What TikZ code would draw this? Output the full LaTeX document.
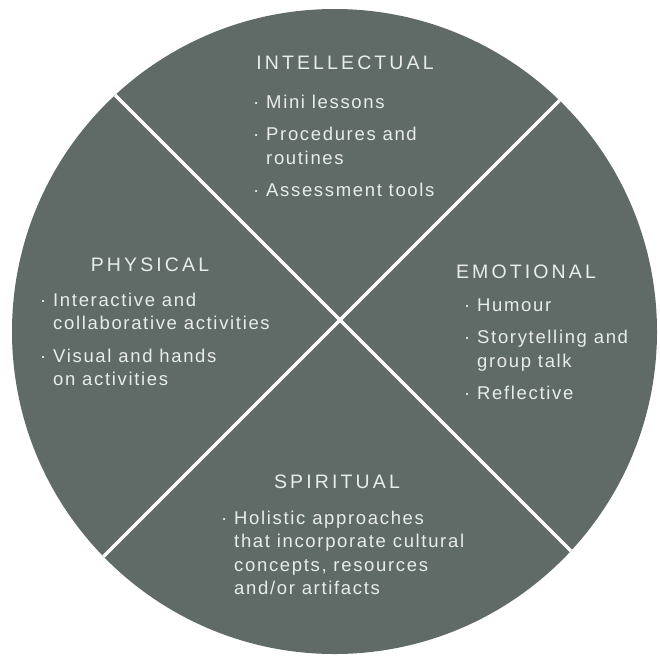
\documentclass[tikz,border=0pt]{standalone}
\usepackage{fontspec}
\setmainfont{Liberation Sans}[LetterSpace=9]
\newfontfamily\headfont{Liberation Sans}[LetterSpace=16]
\definecolor{disc}{RGB}{96,107,104}
\definecolor{ink}{RGB}{232,236,234}
\newcommand\bul{\makebox[13pt][l]{·}}
\newcommand\blist[1]{\begin{tabular}[t]{@{}l@{}l@{}}#1\end{tabular}}
\tikzset{head/.style={anchor=base,inner sep=0pt,text=ink,font=\headfont\fontsize{19.5}{24}\selectfont},
  items/.style={anchor=base west,inner sep=0pt,text=ink,font=\fontsize{18.5}{23.5}\selectfont}}
\begin{document}
\begin{tikzpicture}[x=1pt,y=-1pt,line cap=round]
\useasboundingbox[fill=white] (0,0) rectangle (660,657);
\coordinate (o) at (334.5,331.5);
\coordinate (x) at (340,320);
\fill[disc] (o) circle (322.5pt);
\begin{scope}
\clip (o) circle (322.5pt);
\draw[white,line width=3.5pt] (x) ++(-400,-400) -- ++(800,800);
\draw[white,line width=3.5pt] (x) ++(400,-400) -- ++(-800,800);
\end{scope}
% headings
\node[head] (intel) at (345,69) {INTELLECTUAL};
\node[head] (phys) at (150,271) {PHYSICAL};
\node[head] (emo) at (526,278) {EMOTIONAL};
\node[head] (spir) at (337,488) {SPIRITUAL};
% lists
\node[items] (intellist) at (253,108) {\blist{\bul&Mini lessons\\[9pt]
  \bul&Procedures and\\ &routines\\[9pt] \bul&Assessment tools}};
\node[items] (physlist) at (40,306) {\blist{\bul&Interactive and\\ &collaborative activities\\[9pt]
  \bul&Visual and hands\\ &on activities}};
\node[items] (emolist) at (464,311) {\blist{\bul&Humour\\[9pt]
  \bul&Storytelling and\\ &group talk\\[9pt] \bul&Reflective}};
\node[items] (spirlist) at (221,524) {\blist{\bul&Holistic approaches\\ &that incorporate cultural\\
  &concepts, resources\\ &and/or artifacts}};
\end{tikzpicture}
\end{document}
